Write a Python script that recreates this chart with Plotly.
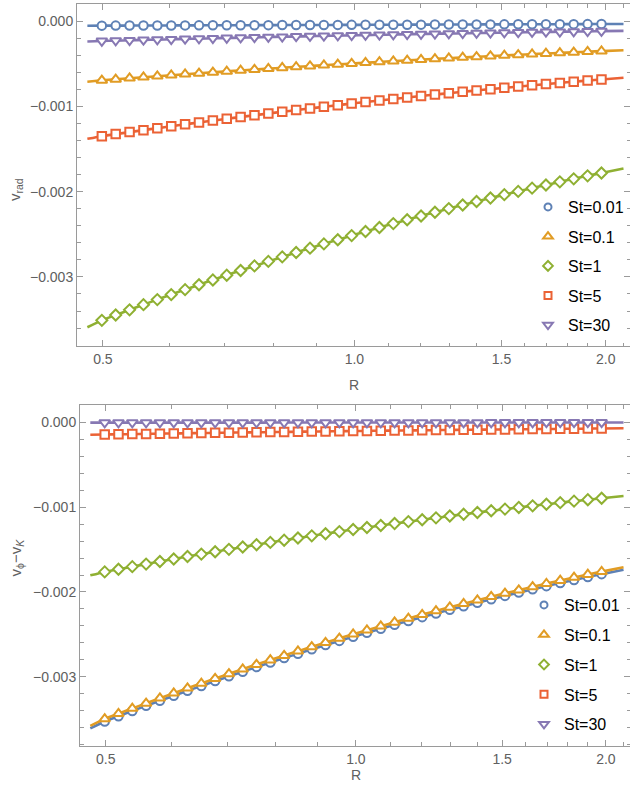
import math
import plotly.graph_objects as go

# ---------------- data ----------------
# radii of the simulation points (markers)
R = [0.4985, 0.5179, 0.5381, 0.5591, 0.5809, 0.6036, 0.6271, 0.6516, 0.6770, 0.7034,
     0.7308, 0.7593, 0.7889, 0.8197, 0.8517, 0.8849, 0.9194, 0.9553, 0.9925, 1.0312,
     1.0715, 1.1133, 1.1567, 1.2018, 1.2487, 1.2974, 1.3480, 1.4005, 1.4552, 1.5119,
     1.5709, 1.6322, 1.6958, 1.7620, 1.8307, 1.9021, 1.9763]
# the analytic curves extend slightly beyond the points
R_START, R_END = 0.479, 2.10

labels = ["St=0.01", "St=0.1", "St=1", "St=5", "St=30"]

SCALE = 1e-6  # values below are given in units of 1e-6

# top panel: v_rad
vrad_001 = [-54.0, -53.5, -52.9, -52.4, -51.9, -51.4, -50.8, -50.3, -49.8, -49.2, -48.7, -48.2, -47.7,
            -47.1, -46.6, -46.1, -45.6, -45.0, -44.5, -44.0, -43.4, -42.9, -42.4, -41.9, -41.3, -40.8,
            -40.3, -39.7, -39.2, -38.7, -38.2, -37.6, -37.1, -36.6, -36.1, -35.5, -35.0]
vrad_01 = [-694.8, -682.5, -670.4, -658.4, -646.6, -635.0, -623.5, -612.2, -601.0, -590.0, -579.2,
           -568.5, -557.9, -547.6, -537.3, -527.3, -517.4, -507.6, -498.0, -488.6, -479.4, -470.3,
           -461.3, -452.5, -443.9, -435.4, -427.1, -418.9, -410.9, -403.1, -395.4, -387.9, -380.5,
           -373.3, -366.3, -359.4, -352.6]
vrad_1 = [-3509.0, -3447.0, -3385.8, -3325.4, -3265.8, -3207.0, -3149.0, -3091.8, -3035.4, -2979.8,
          -2925.0, -2871.0, -2817.8, -2765.4, -2713.8, -2663.0, -2613.0, -2563.8, -2515.4, -2467.8,
          -2421.0, -2375.0, -2329.8, -2285.4, -2241.8, -2199.0, -2157.0, -2115.8, -2075.4, -2035.8,
          -1997.0, -1959.0, -1921.8, -1885.4, -1849.8, -1815.0, -1781.0]
vrad_5 = [-1349.6, -1325.7, -1302.2, -1278.9, -1256.0, -1233.4, -1211.1, -1189.1, -1167.4, -1146.0,
          -1125.0, -1104.2, -1083.7, -1063.6, -1043.7, -1024.2, -1005.0, -986.0, -967.4, -949.1,
          -931.1, -913.4, -896.0, -879.0, -862.2, -845.7, -829.6, -813.7, -798.2, -783.0, -768.1,
          -753.4, -739.1, -725.1, -711.4, -698.0, -685.0]
vrad_30 = [-233.7, -229.6, -225.5, -221.5, -217.5, -213.6, -209.7, -205.9, -202.2, -198.5, -194.8,
           -191.2, -187.7, -184.2, -180.7, -177.4, -174.0, -170.8, -167.5, -164.4, -161.2, -158.2,
           -155.2, -152.2, -149.3, -146.5, -143.7, -140.9, -138.2, -135.6, -133.0, -130.5, -128.0,
           -125.6, -123.2, -120.9, -118.6]
# curve values at R_START / R_END
vrad_ends = [(-55.1, -34.0), (-710.8, -342.3), (-3590.0, -1729.0), (-1380.7, -665.0), (-239.1, -115.2)]

# bottom panel: v_phi - v_K
dvphi_001 = [-3526.5, -3464.2, -3402.7, -3342.0, -3282.1, -3223.0, -3164.7, -3107.3, -3050.6, -2994.7,
             -2939.6, -2885.4, -2831.9, -2779.2, -2727.4, -2676.3, -2626.1, -2576.6, -2528.0, -2480.1,
             -2433.1, -2386.9, -2341.4, -2296.8, -2253.0, -2210.0, -2167.8, -2126.4, -2085.8, -2046.0,
             -2007.0, -1968.8, -1931.4, -1894.8, -1859.0, -1824.1, -1789.9]
dvphi_01 = [-3496.5, -3434.2, -3372.7, -3312.0, -3252.1, -3193.0, -3134.7, -3077.3, -3020.6, -2964.7,
            -2909.6, -2855.4, -2801.9, -2749.2, -2697.4, -2646.3, -2596.1, -2546.6, -2498.0, -2450.1,
            -2403.1, -2356.9, -2311.4, -2266.8, -2223.0, -2180.0, -2137.8, -2096.4, -2055.8, -2016.0,
            -1977.0, -1938.8, -1901.4, -1864.8, -1829.0, -1794.1, -1759.9]
dvphi_1 = [-1763.3, -1732.1, -1701.4, -1671.0, -1641.1, -1611.5, -1582.4, -1553.7, -1525.3, -1497.4,
           -1469.8, -1442.7, -1416.0, -1389.6, -1363.7, -1338.2, -1313.1, -1288.3, -1264.0, -1240.1,
           -1216.6, -1193.5, -1170.7, -1148.4, -1126.5, -1105.0, -1083.9, -1063.2, -1042.9, -1023.0,
           -1003.5, -984.4, -965.7, -947.4, -929.5, -912.1, -895.0]
dvphi_5 = [-143.9, -141.3, -138.8, -136.4, -133.9, -131.5, -129.1, -126.8, -124.5, -122.2, -119.9,
           -117.7, -115.5, -113.4, -111.3, -109.2, -107.1, -105.1, -103.1, -101.2, -99.3, -97.4,
           -95.5, -93.7, -91.9, -90.2, -88.4, -86.8, -85.1, -83.5, -81.9, -80.3, -78.8, -77.3,
           -75.8, -74.4, -73.0]
dvphi_30 = [-3.9, -3.8, -3.8, -3.7, -3.6, -3.6, -3.5, -3.5, -3.4, -3.3, -3.3, -3.2, -3.1, -3.1, -3.0,
            -3.0, -2.9, -2.9, -2.8, -2.8, -2.7, -2.7, -2.6, -2.6, -2.5, -2.5, -2.4, -2.4, -2.3, -2.3,
            -2.2, -2.2, -2.1, -2.1, -2.1, -2.0, -2.0]
dvphi_ends = [(-3608.0, -1737.6), (-3578.0, -1707.6), (-1804.0, -868.8), (-147.2, -70.9), (-4.0, -1.9)]

x_tickvals = [0.5, 1.0, 1.5, 2.0]
x_ticktext = ["0.5", "1.0", "1.5", "2.0"]
x_minor = [0.6, 0.7, 0.8, 0.9, 1.1, 1.2, 1.3, 1.4, 1.6, 1.7, 1.8, 1.9, 2.1]

# ---------------- style ----------------
colors = ["#5E81B5", "#E19C24", "#8FB032", "#EB6235", "#8778B3"]
symbols = ["circle", "triangle-up", "diamond", "square", "triangle-down"]
msize = [8.5, 9.5, 8.5, 8.5, 9.5]
lsize = [7, 8.5, 7.5, 7, 8.5]
FONT = "Liberation Sans, Arial, sans-serif"
AX = "#9a9a9a"
TXT = "#606060"

top_series = [vrad_001, vrad_01, vrad_1, vrad_5, vrad_30]
bot_series = [dvphi_001, dvphi_01, dvphi_1, dvphi_5, dvphi_30]
for s in top_series + bot_series:
    assert len(s) == len(R)

fig = go.Figure()


def add_panel(series, ends, xa, ya, legend_name):
    for i in range(5):
        vals = [v * SCALE for v in series[i]]
        e0, e1 = ends[i]
        fig.add_trace(go.Scatter(
            x=[R_START] + R + [R_END], y=[e0 * SCALE] + vals + [e1 * SCALE],
            mode="lines", line=dict(color=colors[i], width=2.6, shape="spline", smoothing=0.5),
            xaxis=xa, yaxis=ya, showlegend=False, hoverinfo="skip"))
        fig.add_trace(go.Scatter(
            x=R, y=vals, mode="markers",
            marker=dict(symbol=symbols[i], size=msize[i], color="white",
                        line=dict(color=colors[i], width=2)),
            xaxis=xa, yaxis=ya, showlegend=False, hoverinfo="skip"))
    for i in range(5):
        fig.add_trace(go.Scatter(
            x=[None], y=[None], mode="markers", name=labels[i],
            marker=dict(symbol=symbols[i], size=lsize[i], color="white",
                        line=dict(color=colors[i], width=2)),
            legend=legend_name, legendgroup=legend_name + str(i),
            xaxis=xa, yaxis=ya, showlegend=True))


add_panel(top_series, vrad_ends, "x", "y", "legend")
add_panel(bot_series, dvphi_ends, "x2", "y2", "legend2")

xr = [math.log10(0.4655), math.log10(2.138)]


def xaxis(domain, anchor):
    return dict(type="log", range=xr, domain=domain, anchor=anchor,
                tickmode="array", tickvals=x_tickvals, ticktext=x_ticktext,
                ticks="inside", ticklen=6, tickwidth=1, tickcolor=AX,
                showline=True, linecolor=AX, linewidth=1, mirror="ticks",
                showgrid=False, zeroline=False,
                tickfont=dict(family=FONT, size=14, color=TXT),
                minor=dict(tickmode="array", tickvals=x_minor, ticks="inside", ticklen=3.5,
                           tickwidth=1, tickcolor=AX, showgrid=False))


def yaxis(domain, anchor, rng):
    return dict(range=rng, domain=domain, anchor=anchor,
                tick0=0, dtick=0.001, tickformat=".3f",
                ticks="inside", ticklen=6, tickwidth=1, tickcolor=AX,
                showline=True, linecolor=AX, linewidth=1, mirror="ticks",
                showgrid=False, zeroline=False,
                tickfont=dict(family=FONT, size=14, color=TXT),
                minor=dict(tick0=0, dtick=0.0002, ticks="inside", ticklen=3.5,
                           tickwidth=1, tickcolor=AX, showgrid=False))


W, H = 630, 800
fig.update_layout(
    width=W, height=H,
    margin=dict(l=0, r=0, t=0, b=0),
    paper_bgcolor="white", plot_bgcolor="white",
    font=dict(family=FONT, size=14, color=TXT),
    xaxis=xaxis([77 / W, 1.0], "y"),
    yaxis=yaxis([1 - 346 / H, 1 - 4 / H], "x", [-0.00381, 0.0002]),
    xaxis2=xaxis([80 / W, 1.0], "y2"),
    yaxis2=yaxis([1 - 745.7 / H, 1 - 405 / H], "x2", [-0.003812, 0.000204]),
    legend=dict(x=528 / W, y=1 - 190 / H, xanchor="left", yanchor="top",
                bgcolor="rgba(0,0,0,0)", font=dict(family=FONT, size=16, color="black"),
                tracegroupgap=5.7, traceorder="grouped"),
    legend2=dict(x=524 / W, y=1 - 588 / H, xanchor="left", yanchor="top",
                 bgcolor="rgba(0,0,0,0)", font=dict(family=FONT, size=16, color="black"),
                 tracegroupgap=6.0, traceorder="grouped"),
    showlegend=True,
    annotations=[
        dict(text="R", x=354 / W, y=1 - 385 / H, xref="paper", yref="paper",
             showarrow=False, font=dict(family=FONT, size=14, color=TXT)),
        dict(text="R", x=356 / W, y=1 - 785 / H, xref="paper", yref="paper",
             showarrow=False, font=dict(family=FONT, size=14, color=TXT)),
        dict(text="v<sub>rad</sub>", x=4 / W, y=1 - 176 / H, xref="paper", yref="paper",
             textangle=-90, showarrow=False, font=dict(family=FONT, size=15, color=TXT)),
        dict(text="v<sub>ϕ</sub>\u2212v<sub><i>K</i></sub>", x=4 / W, y=1 - 579 / H,
             xref="paper", yref="paper",
             textangle=-90, showarrow=False, font=dict(family=FONT, size=15, color=TXT)),
    ],
)

fig.write_html("out.html")
